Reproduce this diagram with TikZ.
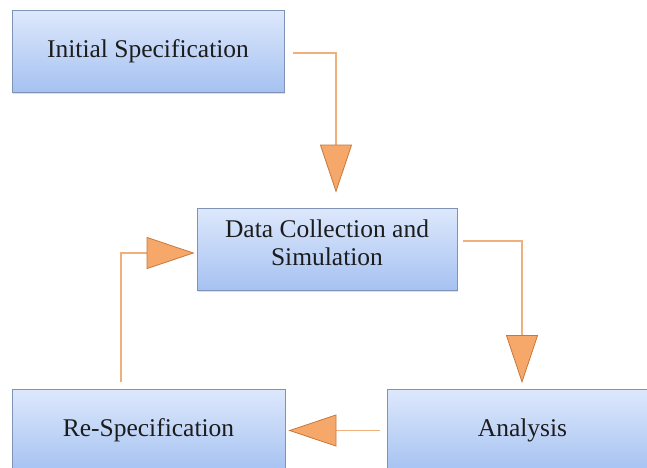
\documentclass[tikz,border=0pt]{standalone}
\usepackage{fontspec}
\setmainfont{Liberation Serif}
\newfontfamily\boxfont{Liberation Serif}
\usetikzlibrary{arrows.meta,shadows}
\definecolor{boxtop}{HTML}{DDE8FC}
\definecolor{boxbot}{HTML}{A6C2F1}
\definecolor{boxline}{HTML}{7E93B6}
\definecolor{conline}{HTML}{F0B07C}
\definecolor{tipfill}{HTML}{F5A86A}
\definecolor{tipedge}{HTML}{C9783A}
\definecolor{txt}{HTML}{1C1C1C}
\tikzset{
  stepbox/.style={draw=boxline, line width=0.8pt, top color=boxtop, bottom color=boxbot,
    minimum height=82pt, inner sep=0pt, align=center, text=txt,
    font=\boxfont\fontsize{25.5}{28}\selectfont,
    drop shadow={opacity=0.25, shadow xshift=1pt, shadow yshift=-2pt}},
  conn/.style={draw=conline, line width=1.8pt,
    -{Triangle[length=48pt, width=32pt, fill=tipfill, color=tipedge, line width=0.8pt]}}
}
\begin{document}
\begin{tikzpicture}[x=1pt,y=-1pt]
\useasboundingbox (0,0) rectangle (647,467);
\clip (0,0) rectangle (647,467);
\fill[white] (0,0) rectangle (647,467);
\node[stepbox, minimum width=272pt] (b1) at (148,51) {Initial Specification};
\node[stepbox, minimum width=260pt] (b2) at (327,249) {Data Collection  and\\[0pt]Simulation\\[-16pt]\mbox{}};
\node[stepbox, minimum width=273pt] (b3) at (148.5,430.5) {Re-Specification};
\node[stepbox, minimum width=273pt] (b4) at (523.5,430.5) {\hspace*{-2pt}Analysis};
\draw[conn] ([shift={(9,2)}]b1.east) -| ([shift={(9,-15)}]b2.north);
\draw[conn] ([shift={(6,-8)}]b2.east) -| ([shift={(-1.5,-6)}]b4.north);
\draw[conn] ([xshift=-7pt]b4.west) -- ([xshift=3pt]b4.west -| b3.east);
\draw[conn] ([shift={(-27.5,-7)}]b3.north) |- ([shift={(-2,4)}]b2.west);
\end{tikzpicture}
\end{document}
